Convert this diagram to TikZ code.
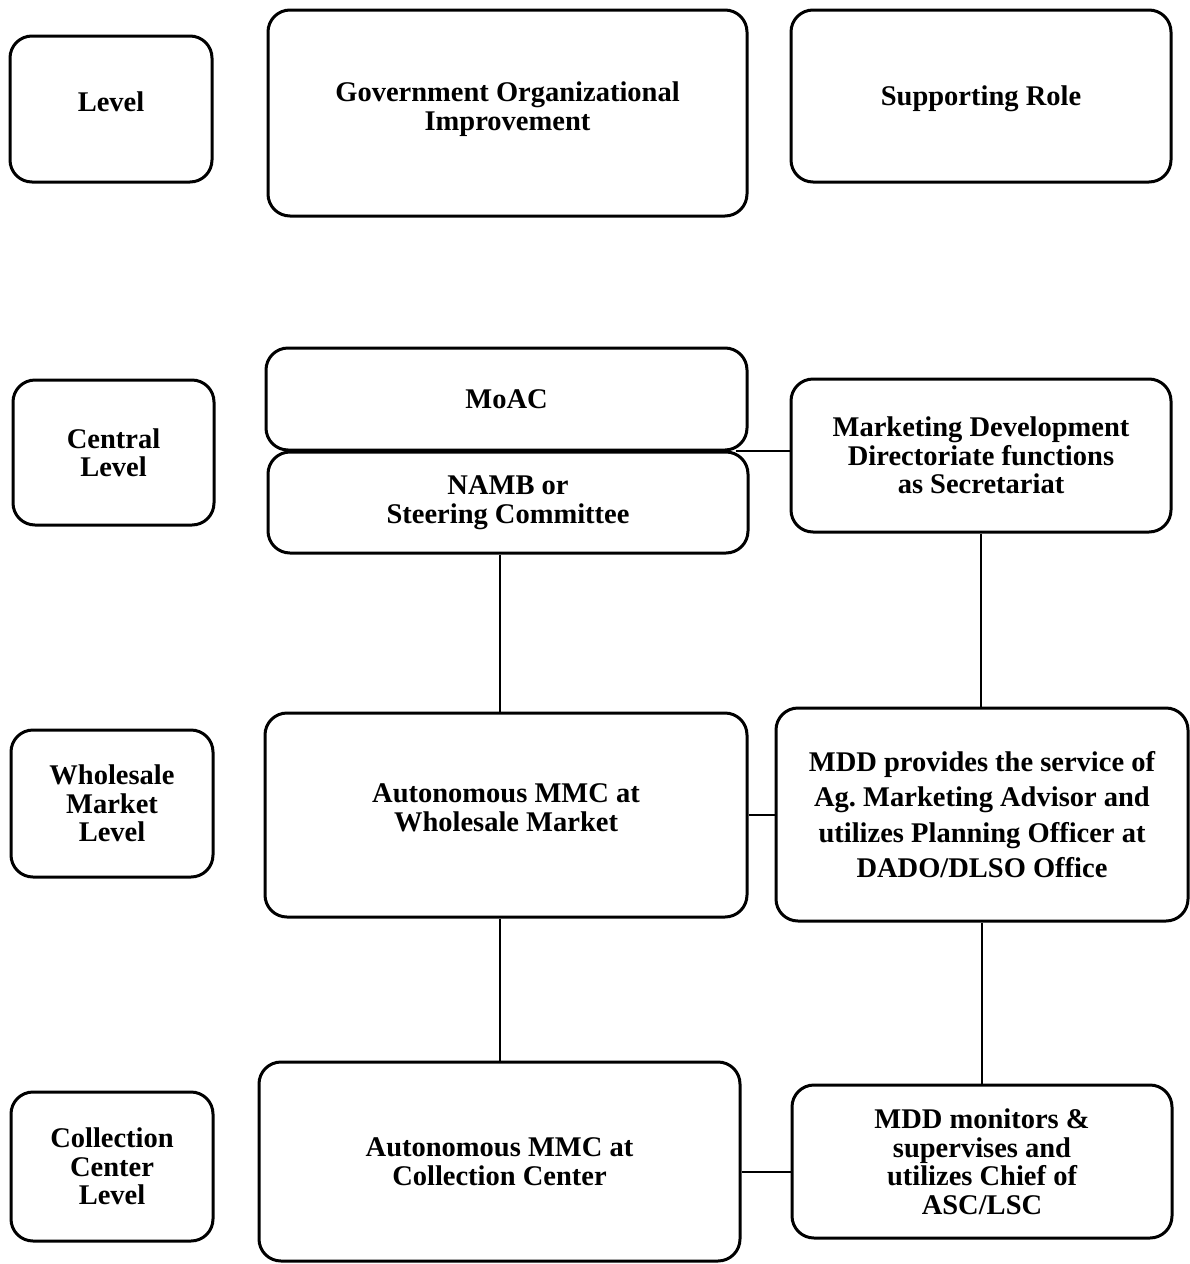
\documentclass[tikz,border=0pt]{standalone}
\usepackage{fontspec}
\setmainfont{Liberation Serif}
\usetikzlibrary{calc}
\frenchspacing
\begin{document}
\begin{tikzpicture}[x=1pt,y=-1pt,
  box/.style={draw, line width=3pt, rounded corners=22pt, align=center, inner sep=0pt},
  txt/.style={align=center, inner sep=0pt},
  conn/.style={line width=2pt},
  font=\fontsize{28.5}{28.5}\selectfont\bfseries]
\useasboundingbox (0,0) rectangle (1190,1264);
% header row
\node[box, minimum width=202pt, minimum height=146pt] (lvl) at (111,109) {};
\node[txt] (lvlt) at ($(lvl.center)+(0,-7)$) {Level};
\node[box, minimum width=479pt, minimum height=206pt] (goi) at (507.5,113) {};
\node[txt] (goit) at ($(goi.center)+(0,-4)$) {Government Organizational\\Improvement};
\node[box, minimum width=380pt, minimum height=172pt] (sup) at (981,96) {};
\node[txt] (supt) at ($(sup.center)+(0,3)$) {Supporting Role};
% central level
\node[box, minimum width=201pt, minimum height=145pt] (cen) at (113.5,452.5) {Central\\Level};
\node[box, minimum width=481pt, minimum height=102pt] (moac) at (506.5,399) {MoAC};
\node[box, minimum width=480pt, minimum height=101pt] (namb) at (508,502.5) {NAMB or\\Steering Committee};
\node[box, minimum width=380pt, minimum height=153pt] (mkt) at (981,455.5) {Marketing Development\\Directoriate functions\\as Secretariat};
% wholesale market level
\node[box, minimum width=202pt, minimum height=147pt] (whl) at (112,803.5) {Wholesale\\Market\\Level};
\node[box, minimum width=482pt, minimum height=204pt] (aw) at (506,815) {};
\node[txt] (awt) at ($(aw.center)+(0,-7)$) {Autonomous MMC at\\Wholesale Market};
\node[box, minimum width=412pt, minimum height=213pt, font=\fontsize{28.5}{35.5}\selectfont\bfseries] (mddp) at (982,814.5) {MDD provides the service of\\Ag. Marketing Advisor and\\utilizes Planning Officer at\\DADO/DLSO Office};
% collection center level
\node[box, minimum width=202pt, minimum height=149pt] (ccl) at (112,1166.5) {Collection\\Center\\Level};
\node[box, minimum width=481pt, minimum height=199pt] (ac) at (499.5,1161.5) {Autonomous MMC at\\Collection Center};
\node[box, minimum width=380pt, minimum height=153pt] (mddm) at (982,1161.5) {MDD monitors \&\\supervises and\\utilizes Chief of\\ASC/LSC};
% connectors
\draw[conn] ($(namb.north east)+(-14,0)$) -- (namb.north east -| mkt.west);
\draw[conn] (namb.south -| ac.north) -- (aw.north -| ac.north);
\draw[conn] (mkt.south) -- (mkt.south |- mddp.north);
\draw[conn] (aw.east) -- (aw.east -| mddp.west);
\draw[conn] (aw.south -| ac.north) -- (ac.north);
\draw[conn] (mddp.south) -- (mddp.south |- mddm.north);
\coordinate (j) at ($(ac.east)+(0,10.5)$);
\draw[conn] (j) -- (j -| mddm.west);
\end{tikzpicture}
\end{document}
